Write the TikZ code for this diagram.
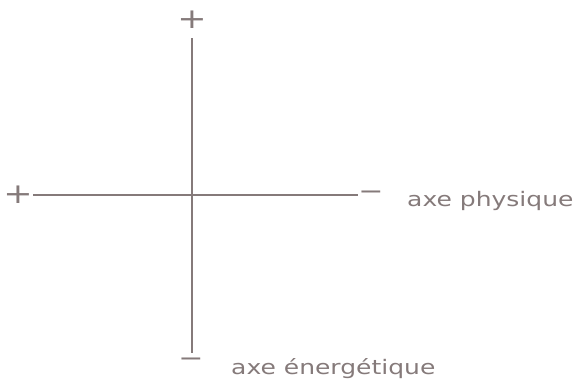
\documentclass[tikz,border=0pt]{standalone}
\usepackage{fontspec}
\setmainfont{DejaVu Sans}[FakeStretch=1.25]
\definecolor{ink}{HTML}{857A7A}
\begin{document}
\begin{tikzpicture}[x=1pt,y=-1pt,
  axis/.style={draw=ink,line width=1.9pt},
  sign/.style={text=ink,inner sep=0pt,font=\fontsize{24}{24}\selectfont},
  bigsign/.style={sign,font=\fontsize{28}{28}\selectfont},
  lbl/.style={text=ink,inner sep=0pt,anchor=west,font=\fontsize{20}{22}\selectfont}]
\useasboundingbox (0,0) rectangle (574,389);
\coordinate (vt) at (192,38);
\coordinate (vb) at (192,353);
\coordinate (hl) at (33,195);
\coordinate (hr) at (358,195);
\draw[axis] (vt) -- (vb);
\draw[axis] (hl) -- (hr);
\node[bigsign] (ptop) at (192,20) {+};
\node[bigsign] (pleft) at (18,195) {+};
\node[sign] (mright) at (371,195) {−};
\node[sign] (mbot) at (191,362) {−};
\node[lbl] (phys) at (407,201) {axe physique};
\node[lbl] (ener) at (231,369) {axe énergétique};
\end{tikzpicture}
\end{document}
